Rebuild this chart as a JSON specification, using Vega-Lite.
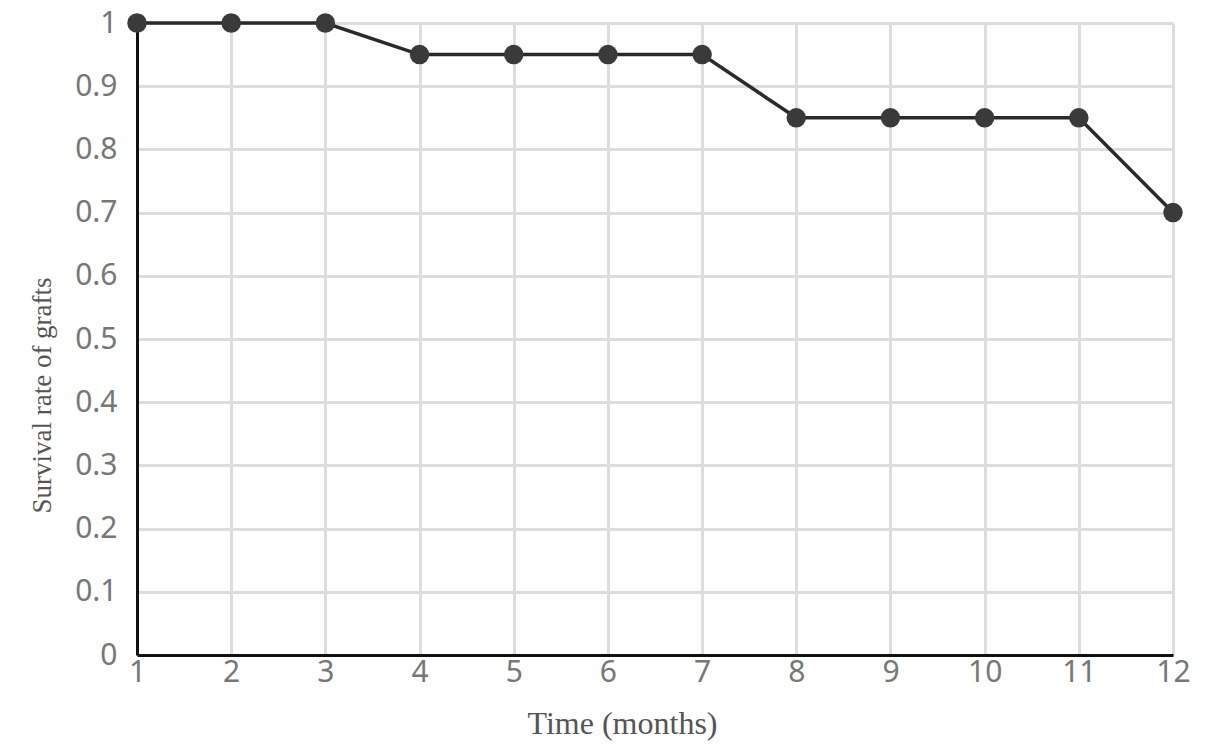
{
  "$schema": "https://vega.github.io/schema/vega-lite/v6.json",
  "width": 1036,
  "height": 632,
  "autosize": {"type": "none"},
  "padding": {"left": 137, "top": 23, "right": 32, "bottom": 100},
  "background": "white",
  "view": {"stroke": null},
  "data": {
    "values": [
      {"month": 1, "rate": 1.0},
      {"month": 2, "rate": 1.0},
      {"month": 3, "rate": 1.0},
      {"month": 4, "rate": 0.95},
      {"month": 5, "rate": 0.95},
      {"month": 6, "rate": 0.95},
      {"month": 7, "rate": 0.95},
      {"month": 8, "rate": 0.85},
      {"month": 9, "rate": 0.85},
      {"month": 10, "rate": 0.85},
      {"month": 11, "rate": 0.85},
      {"month": 12, "rate": 0.70}
    ]
  },
  "encoding": {
    "x": {
      "field": "month",
      "type": "quantitative",
      "scale": {"domain": [1, 12], "nice": false, "zero": false},
      "axis": {
        "values": [1,2,3,4,5,6,7,8,9,10,11,12],
        "title": "Time (months)",
        "titleFont": "Liberation Serif",
        "titleFontSize": 32,
        "titleFontWeight": "normal",
        "titleColor": "#555555",
        "titleX": 485,
        "titleY": 78,
        "titleAlign": "center",
        "titleBaseline": "alphabetic",
        "labelFont": "Noto Sans",
        "labelFontSize": 30,
        "labelColor": "#777777",
        "labelPadding": 2,
        "labelBaseline": "top",
        "labelFlush": false,
        "labelOverlap": false,
        "tickSize": 0,
        "ticks": false,
        "domainColor": "#111111",
        "domainWidth": 3,
        "grid": true,
        "gridColor": "#dddddd",
        "gridWidth": 3
      }
    },
    "y": {
      "field": "rate",
      "type": "quantitative",
      "scale": {"domain": [0, 1], "nice": false},
      "axis": {
        "values": [0,0.1,0.2,0.3,0.4,0.5,0.6,0.7,0.8,0.9,1],
        "format": "~g",
        "title": "Survival rate of grafts",
        "titleFont": "Liberation Serif",
        "titleFontSize": 27,
        "titleFontWeight": "normal",
        "titleColor": "#555555",
        "titleAngle": -90,
        "titleX": -95,
        "titleY": 372,
        "titleAlign": "center",
        "titleBaseline": "middle",
        "labelFont": "Noto Sans",
        "labelFontSize": 30,
        "labelColor": "#777777",
        "labelPadding": 20,
        "labelFlush": false,
        "labelOverlap": false,
        "ticks": false,
        "tickSize": 0,
        "domainColor": "#111111",
        "domainWidth": 3,
        "grid": true,
        "gridColor": "#dddddd",
        "gridWidth": 3
      }
    }
  },
  "layer": [
    {"mark": {"type": "line", "color": "#2a2a2a", "strokeWidth": 3.5}},
    {"mark": {"type": "point", "filled": true, "color": "#3a3a3a", "opacity": 1, "size": 380}}
  ]
}
